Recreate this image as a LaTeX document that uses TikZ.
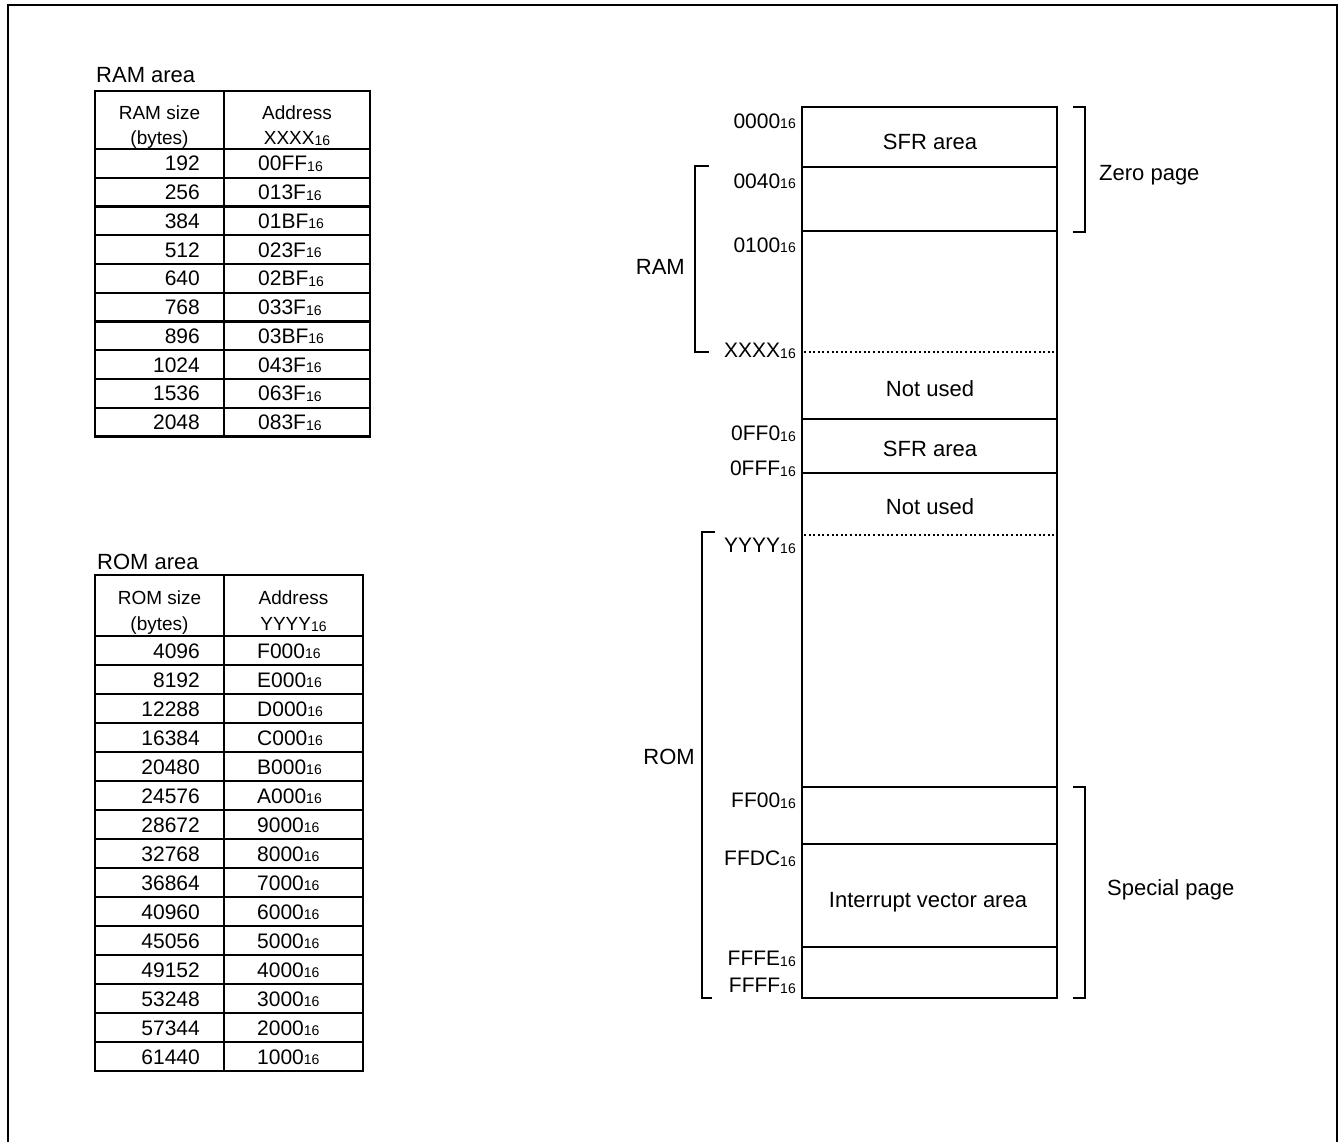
\documentclass[tikz,border=0pt]{standalone}
\usepackage{fontspec}
\setmainfont{Liberation Sans}
\newcommand{\hexs}[1]{#1\raisebox{-0.5pt}{\fontsize{14}{14}\selectfont 16}}
\begin{document}
\begin{tikzpicture}[x=1pt,y=-1pt,
  lbl/.style={font=\fontsize{22}{26}\selectfont, inner sep=0pt, yshift=-7.9pt},
  adr/.style={font=\fontsize{21}{25}\selectfont, inner sep=0pt, yshift=-7.5pt},
  tbl/.style={font=\fontsize{21}{25}\selectfont, inner sep=0pt, yshift=-7.5pt},
  thd/.style={font=\fontsize{19}{23}\selectfont, inner sep=0pt, yshift=-6.8pt},
  ttl/.style={font=\fontsize{22}{26}\selectfont, inner sep=0pt, yshift=-7.9pt},
  grid/.style={line width=2.2pt},
  mapline/.style={line width=2.2pt},
  dotline/.style={line width=2pt, dash pattern=on 2pt off 2.6pt},
  brk/.style={line width=1.6pt}]
\useasboundingbox (0,0) rectangle (1339,1142);
% frame
\draw[line width=2.8pt] (8,1142) -- (8,5) -- (1337,5) -- (1337,1142);

% ---------------- RAM table
\node[ttl, anchor=base west] (ramtitle) at (96,75) {RAM area};
\draw[grid] (95,91) rectangle (370,436.5);
\draw[grid] (224,91) -- (224,436.5);
\draw[grid] (95,149) -- (370,149);
\foreach \i in {1,...,9} {\draw[grid] (95,149+\i*28.75) -- (370,149+\i*28.75);}
\node[thd, anchor=base] (ramh1) at (159.5,113) {RAM size};
\node[thd, anchor=base] (ramh2) at (159.5,138) {(bytes)};
\node[thd, anchor=base] (ramh3) at (297,113) {Address};
\node[thd, anchor=base] (ramh4) at (297,138) {\hexs{XXXX}};
\foreach \s/\a [count=\i] in {192/00FF,256/013F,384/01BF,512/023F,640/02BF,768/033F,896/03BF,1024/043F,1536/063F,2048/083F} {
  \node[tbl, anchor=base east] (rams\i) at (200,149+\i*28.75-14.4) {\s};
  \node[tbl, anchor=base west] (rama\i) at (258,149+\i*28.75-14.4) {\hexs{\a}};
}

% ---------------- ROM table
\node[ttl, anchor=base west] (romtitle) at (97,562) {ROM area};
\draw[grid] (95,575) rectangle (363,1071);
\draw[grid] (224,575) -- (224,1071);
\draw[grid] (95,636) -- (363,636);
\foreach \i in {1,...,14} {\draw[grid] (95,636+\i*29) -- (363,636+\i*29);}
\node[thd, anchor=base] (romh1) at (159.5,598) {ROM size};
\node[thd, anchor=base] (romh2) at (159.5,624) {(bytes)};
\node[thd, anchor=base] (romh3) at (293.5,598) {Address};
\node[thd, anchor=base] (romh4) at (293.5,624) {\hexs{YYYY}};
\foreach \s/\a [count=\i] in {4096/F000,8192/E000,12288/D000,16384/C000,20480/B000,24576/A000,28672/9000,32768/8000,36864/7000,40960/6000,45056/5000,49152/4000,53248/3000,57344/2000,61440/1000} {
  \node[tbl, anchor=base east] (roms\i) at (200,636+\i*29-14.5) {\s};
  \node[tbl, anchor=base west] (roma\i) at (257,636+\i*29-14.5) {\hexs{\a}};
}

% ---------------- memory map
\draw[mapline] (802,107) rectangle (1057,998);
\foreach \yy in {167,231,419,473,787,844,947} {\draw[mapline] (802,\yy) -- (1057,\yy);}
\draw[dotline] (804,352) -- (1057,352);
\draw[dotline] (804,535) -- (1057,535);

\node[lbl, anchor=base] (sfr1) at (930,142) {SFR area};
\node[lbl, anchor=base] (nu1) at (930,389) {Not used};
\node[lbl, anchor=base] (sfr2) at (930,449) {SFR area};
\node[lbl, anchor=base] (nu2) at (930,507) {Not used};
\node[lbl, anchor=base] (iva) at (928,900) {Interrupt vector area};

\foreach \t/\yy/\n in {0000/121/a1,0040/181/a2,0100/245/a3,XXXX/350/a4,0FF0/433/a5,0FFF/468/a6,YYYY/545/a7,FF00/800/a8,FFDC/858/a9,FFFE/958/a10,FFFF/985/a11} {
  \node[adr, anchor=base east] (\n) at (796,\yy) {\hexs{\t}};
}

% brackets
\draw[brk] (1073,107) -- (1085,107) -- (1085,232) -- (1073,232);
\draw[brk] (1073,787) -- (1085,787) -- (1085,998) -- (1073,998);
\draw[brk] (709,166) -- (695,166) -- (695,352) -- (709,352);
\draw[brk] (715,532) -- (702,532) -- (702,998) -- (712,998);

\node[lbl, anchor=base west] (zp) at (1099,173) {Zero page};
\node[lbl, anchor=base west] (sp) at (1107,888) {Special page};
\node[lbl, anchor=base east] (ram) at (685,267) {RAM};
\node[lbl, anchor=base east] (rom) at (695,757) {ROM};
\end{tikzpicture}
\end{document}
